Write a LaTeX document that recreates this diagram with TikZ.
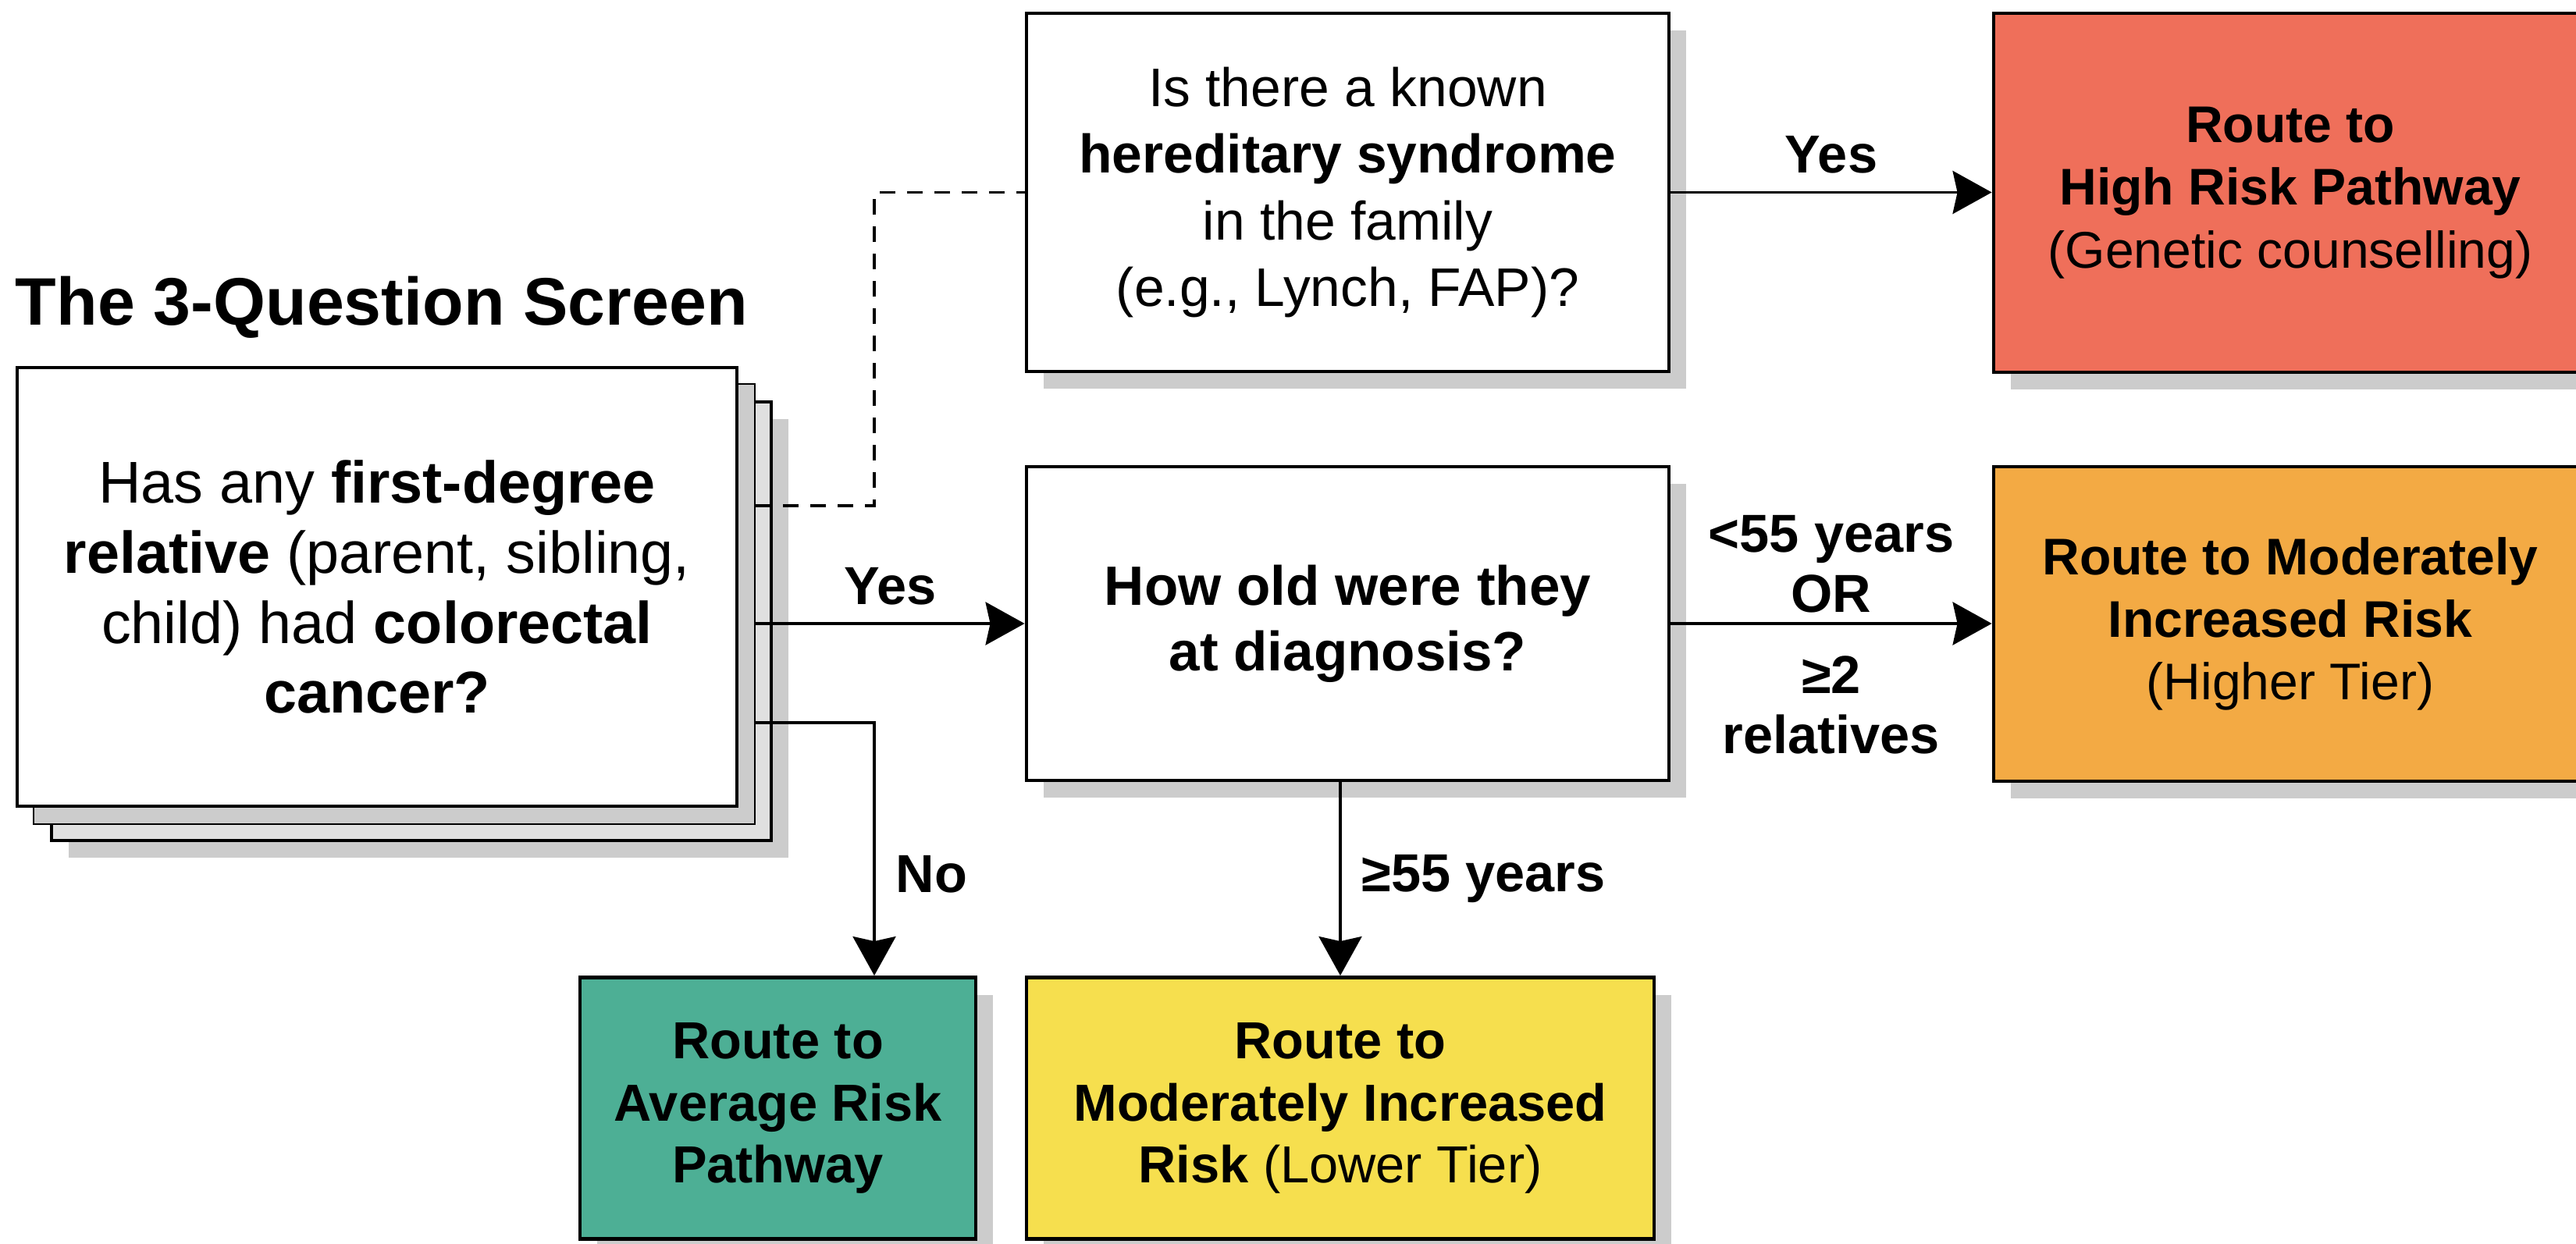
\documentclass[tikz,border=0pt]{standalone}
\usepackage{fontspec}
\setmainfont{Liberation Sans}
\usetikzlibrary{arrows.meta,shadows}
\definecolor{riskRed}{HTML}{EF6F5A}
\definecolor{riskOrange}{HTML}{F3AA44}
\definecolor{riskGreen}{HTML}{4DAF95}
\definecolor{riskYellow}{HTML}{F6DF4E}
\tikzset{
  flowNode/.style = {rectangle, align=center, inner sep=5pt, text centered,
    draw=black, line width=1.4pt},
  %grey shadow under boxes
  boxShadow/.style = {drop shadow={shadow xshift=0.22cm, shadow yshift=-0.22cm,
    fill=black!20, opacity=1}},
  %question node
  nodeQuestion/.style = {flowNode, boxShadow, fill=white,
    font=\fontsize{19.8}{24.2}\selectfont},
  %sheets stacked behind the first question
  nodeSheet/.style = {flowNode, fill=black!12, minimum width=9.22cm,
    minimum height=5.62cm},
  %route node
  nodeRoute/.style = {flowNode, boxShadow, font=\fontsize{18.8}{22.8}\selectfont},
  %label on a connector
  edgeLabel/.style = {align=center, font=\bfseries\fontsize{19.5}{22}\selectfont}
}

\begin{document}
\begin{tikzpicture}[->,>={Stealth[length=0.5cm,width=0.55cm,inset=0.06cm]},
  line width=1.1pt]
\useasboundingbox (0,0) rectangle (33,-15.94);

\node [font=\bfseries\fontsize{24.5}{28}\selectfont, anchor=west, inner sep=0pt]
  (title) at (0.18,-3.94) {The 3-Question Screen};

% first question with its stack
\node [nodeSheet, boxShadow] (q1s2) at (5.27,-7.96) {};
\node [nodeSheet] (q1s1) at (5.05,-7.74) {};
\node [nodeQuestion, minimum width=9.22cm, minimum height=5.62cm,
  font=\fontsize{21.5}{25.6}\selectfont] (q1) at (4.83,-7.52)
  {Has any \textbf{first-degree}\\ \textbf{relative} (parent, sibling,\\
   child) had \textbf{colorectal}\\ \textbf{cancer?}};

\node [nodeQuestion, minimum width=8.23cm, minimum height=4.59cm] (q3)
  at (17.265,-2.465)
  {Is there a known\\ \textbf{hereditary syndrome}\\ in the family\\
   (e.g., Lynch, FAP)?};
\node [nodeQuestion, minimum width=8.23cm, minimum height=4.02cm,
  font=\bfseries\fontsize{20.2}{24}\selectfont] (q2) at (17.265,-7.99)
  {How old were they\\ at diagnosis?};

% routes
\node [nodeRoute, fill=riskRed, minimum width=7.6cm, minimum height=4.6cm]
  (high) at (29.34,-2.47)
  {\textbf{Route to}\\ \textbf{High Risk Pathway}\\ (Genetic counselling)};
\node [nodeRoute, fill=riskOrange, minimum width=7.6cm, minimum height=4.03cm]
  (modT) at (29.34,-7.995)
  {\textbf{Route to Moderately}\\ \textbf{Increased Risk}\\ (Higher Tier)};
\node [nodeRoute, fill=riskGreen, minimum width=5.07cm, minimum height=3.35cm,
  font=\fontsize{19}{22.5}\selectfont] (avg) at (9.965,-14.2)
  {\textbf{Route to}\\ \textbf{Average Risk}\\ \textbf{Pathway}};
\node [nodeRoute, fill=riskYellow, minimum width=8.04cm, minimum height=3.35cm,
  font=\fontsize{19}{22.5}\selectfont] (lowT) at (17.17,-14.2)
  {\textbf{Route to}\\ \textbf{Moderately Increased}\\ \textbf{Risk} (Lower Tier)};

\coordinate (branch) at (11.2,0);

% connectors
\draw [-, dashed, dash pattern=on 0.2cm off 0.15cm] ([yshift=1.26cm]q1s1.east)
  -| (branch |- q3.west) -- (q3.west);
\draw (q1s1.east |- q2.west) -- node [edgeLabel, above=3pt] {Yes} (q2.west);
\draw ([yshift=-1.52cm]q1s1.east) -| node [edgeLabel, right=4pt, pos=0.8] {No}
  (branch |- avg.north);
\draw (q3.east) -- node [edgeLabel, above=3pt] {Yes} (q3.east -| high.west);
\draw (q2.east) -- node [edgeLabel, above] {<55 years\\OR}
  node [edgeLabel, below=8pt] {≥2\\relatives} (q2.east -| modT.west);
\draw (q2.south -| lowT.north) -- node [edgeLabel, right=4pt] {≥55 years}
  (lowT.north);
\end{tikzpicture}
\end{document}
